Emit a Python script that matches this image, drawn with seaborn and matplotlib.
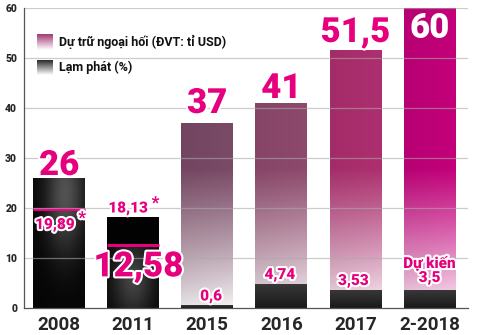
import numpy as np
import matplotlib
matplotlib.use("Agg")
import matplotlib.pyplot as plt
import seaborn as sns
import pandas as pd
from matplotlib import patheffects as pe
from matplotlib.colors import to_rgb
from matplotlib import font_manager as fm

# ---- data ----
categories = ['2008', '2011', '2015', '2016', '2017', '2-2018']
reserves = [26, 12.58, 37, 41, 51.5, 60]
inflation = [19.89, 18.13, 0.6, 4.74, 3.53, 3.5]
reserve_labels = ['26', '12,58', '37', '41', '51,5', '60']
inflation_labels = ['19,89', '18,13', '0,6', '4,74', '3,53', 'Dự kiến\n3,5']
starred = [True, True, False, False, False, False]
yticks = [0, 10, 20, 30, 40, 50, 60]
legend_labels = ['Dự trữ ngoại hối (ĐVT: tỉ USD)', 'Lạm phát (%)']

# ---- style ----
PINK = '#e6007e'
bar_tops = ['#222222', '#111111', '#7a4a66', '#8e496c', '#ad2f6f', '#c3007a']

sns.set_style('white')
plt.rcParams['font.family'] = ['Roboto', 'DejaVu Sans']
names = {f.name for f in fm.fontManager.ttflist}
NARROW = ['Liberation Sans Narrow', 'Roboto', 'DejaVu Sans'] if 'Liberation Sans Narrow' in names else ['Roboto', 'DejaVu Sans']
HEAVY = 'black'

df = pd.DataFrame({'year': categories, 'reserves': reserves, 'inflation': inflation})

fig = plt.figure(figsize=(4.8, 3.35), dpi=100)
ax = fig.add_axes([24 / 480, 27 / 335, 444 / 480, 300 / 335])

sns.barplot(data=df, x='year', y='reserves', width=0.7, color='gray',
            errorbar=None, ax=ax)
sns.barplot(data=df, x='year', y='inflation', width=0.7, color='black',
            errorbar=None, ax=ax)
res_patches = ax.patches[:6]
inf_patches = ax.patches[6:12]

N = 200
for i in range(6):
    rp, ip = res_patches[i], inf_patches[i]
    for p in (rp, ip):
        p.set_visible(False)
    x0, w = rp.get_x(), rp.get_width()
    if starred[i]:
        big = rp if rp.get_height() >= ip.get_height() else ip
        small = ip if big is rp else rp
        h = big.get_height()
        hs = small.get_height()
        ys = np.linspace(0, h, N)[:, None]
        xs = np.linspace(0, 1, 60)[None, :]
        if i == 0:
            yc, sy, xc, amp = 0.88 * h, 0.45 * h, 0.62, 0.30
            v = 0.02 + amp * np.exp(-((xs - xc) / 0.38) ** 2 - ((ys - yc) / sy) ** 2)
        else:
            yc, sy, xc, amp = 0.45 * hs, 0.6 * hs, 0.5, 0.24
            v = 0.02 + amp * np.exp(-((xs - xc) / 0.4) ** 2 - ((ys - yc) / sy) ** 2)
            v = np.where(ys > hs, 0.01, v)
        img = np.dstack([v, v, v])
        ax.imshow(img, extent=[x0, x0 + w, 0, h], origin='lower', aspect='auto',
                  zorder=2, interpolation='bilinear')
        ax.hlines(hs, x0, x0 + w, color=PINK, lw=2.2, zorder=4)
    else:
        h = rp.get_height()
        top = np.array(to_rgb(bar_tops[i]))
        bot = 0.05 * top + 0.95 * np.ones(3)
        ys = np.linspace(0, h, N)
        wgt = np.clip(ys / 28.0, 0, 1) ** 0.85
        cols = bot[None, :] + (top - bot)[None, :] * wgt[:, None]
        xs = np.linspace(0, 1, 40)
        shade = 1 - 0.06 * (1 - xs)
        img = cols[:, None, :] * shade[None, :, None]
        img = np.clip(img, 0, 1)
        ax.imshow(img, extent=[x0, x0 + w, 0, h], origin='lower', aspect='auto',
                  zorder=2, interpolation='bilinear')
        hi = ip.get_height()
        vv = np.linspace(0.1, 0.22, N)[:, None, None] * np.ones((1, 10, 3))
        ax.imshow(vv, extent=[x0, x0 + w, 0, hi], origin='lower', aspect='auto',
                  zorder=3, interpolation='bilinear')

# grid on top (semi transparent)
for yv in yticks[1:]:
    ax.axhline(yv, color='#aaaaaa', lw=0.9, alpha=0.6, zorder=5)

stroke = [pe.Stroke(linewidth=3, foreground='white'), pe.Normal()]

# reserve labels
big_kw = dict(fontsize=25, fontweight=HEAVY, ha='center', zorder=7)
ax.text(0, 26.6, reserve_labels[0], va='baseline', color=PINK, path_effects=stroke, **big_kw)
ax.text(1.07, 8.2, reserve_labels[1], va='center', color=PINK, path_effects=stroke, **big_kw)
ax.text(2, 39.0, reserve_labels[2], va='baseline', color=PINK, path_effects=stroke, **big_kw)
ax.text(3, 42.0, reserve_labels[3], va='baseline', color=PINK, path_effects=stroke, **big_kw)
ax.text(4, 53.2, reserve_labels[4], va='baseline', color=PINK, path_effects=stroke, **big_kw)
ax.text(5, 54.0, reserve_labels[5], va='baseline', color='white', **big_kw)

# inflation labels
sm_kw = dict(fontsize=11, fontweight=HEAVY, ha='center', va='center', color=PINK,
             path_effects=stroke, zorder=7)
ax.text(-0.06, 16.6, inflation_labels[0], **sm_kw)
ax.text(0.31, 18.0, '*', fontsize=12, fontweight=HEAVY, ha='center', va='center',
        color=PINK, path_effects=stroke, zorder=7)
ax.text(0.93, 19.9, inflation_labels[1], **sm_kw)
ax.text(1.3, 21.0, '*', fontsize=12, fontweight=HEAVY, ha='center', va='center',
        color=PINK, path_effects=stroke, zorder=7)
ax.text(2.05, 2.3, inflation_labels[2], **sm_kw)
ax.text(2.98, 6.6, inflation_labels[3], **sm_kw)
ax.text(3.97, 5.4, inflation_labels[4], **sm_kw)
ax.text(5.0, 7.5, inflation_labels[5], linespacing=1.0, **sm_kw)

# legend (gradient squares + text)
leg_y = [(51.6, 54.8), (46.6, 49.6)]
leg_top = [np.array(to_rgb('#a23a72')), np.array(to_rgb('#2a2a2a'))]
for k in range(2):
    y0, y1 = leg_y[k]
    t = np.linspace(0, 1, 50)[:, None]
    c = np.ones(3) + (leg_top[k] - np.ones(3)) * t
    img = np.clip(c[:, None, :] * np.ones((1, 5, 1)), 0, 1)
    ax.imshow(img, extent=[-0.3, -0.095, y0, y1], origin='lower', aspect='auto',
              zorder=6, interpolation='bilinear')
    ax.text(0.0, (y0 + y1) / 2, legend_labels[k], fontsize=9, fontweight='bold',
            ha='left', va='center', color='#111111', zorder=7)

# axes styling
ax.set_xlim(-0.475, 5.52)
ax.set_ylim(0, 60)
ax.set_yticks(yticks)
ax.set_yticklabels([str(v) for v in yticks], fontsize=7.5, fontweight=HEAVY)
ax.tick_params(axis='y', length=0, pad=5)
ax.set_xticks(range(6))
ax.set_xticklabels(categories, fontsize=13.5, fontweight='bold', family=NARROW)
ax.set_xticks(np.arange(0.5, 6, 1), minor=True)
ax.tick_params(axis='x', which='major', length=0, pad=6)
ax.tick_params(axis='x', which='minor', length=4, width=0.8, color='#555555', direction='out')
ax.set_xlabel('')
ax.set_ylabel('')
for s in ['top', 'right']:
    ax.spines[s].set_visible(False)
for s in ['left', 'bottom']:
    ax.spines[s].set_color('#555555')
    ax.spines[s].set_linewidth(0.9)
    ax.spines[s].set_zorder(8)

fig.savefig('out.png', dpi=100)
